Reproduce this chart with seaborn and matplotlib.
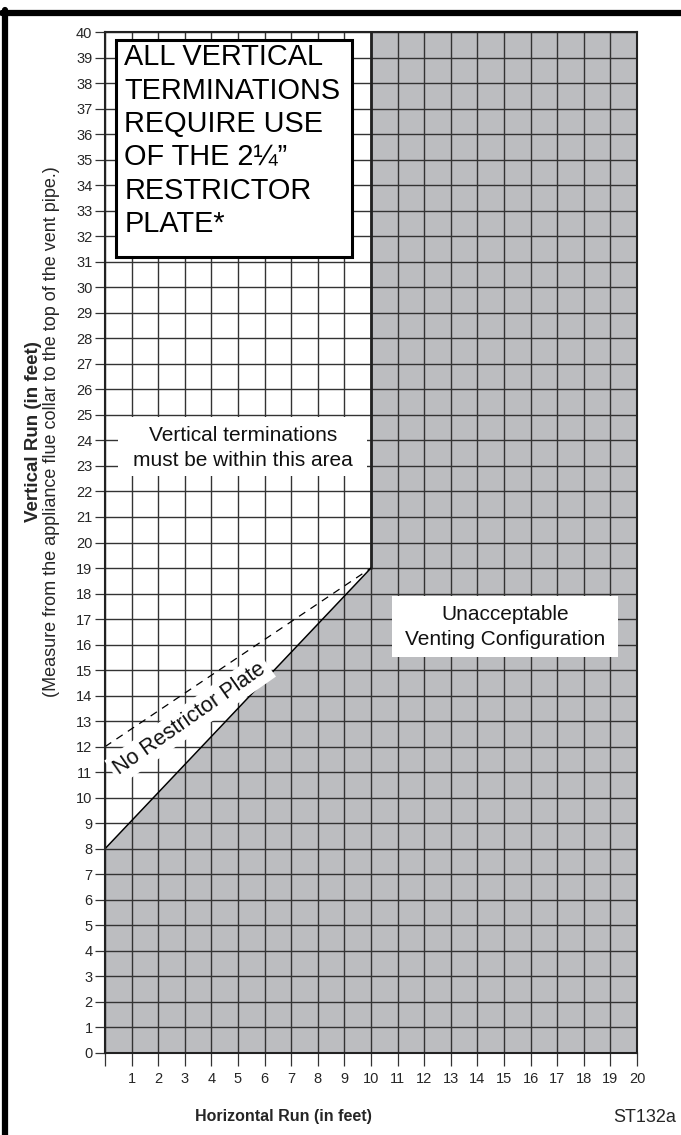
import matplotlib
matplotlib.use("Agg")
import matplotlib.pyplot as plt
import matplotlib.patches as mpatches
from matplotlib.lines import Line2D
import seaborn as sns
import pandas as pd

# Venting limit boundary (horizontal run vs vertical run, feet)
solid_x = [0, 10, 10]
solid_y = [8, 19, 40]
# Limit without restrictor plate
dashed_x = [0, 10]
dashed_y = [12, 19]

x_ticks = list(range(0, 21))
y_ticks = list(range(0, 41))
x_ticklabels = [""] + [str(v) for v in x_ticks[1:]]
y_ticklabels = [str(v) for v in y_ticks]

GRAY = "#bcbdc0"
GRID = "#333333"

sns.set_theme(style="white")
plt.rcParams["font.family"] = ["Liberation Sans", "DejaVu Sans"]

fig = plt.figure(figsize=(6.81, 11.35), dpi=100)
ax = fig.add_axes([105 / 681, 1 - 1053 / 1135, (637 - 105) / 681, (1053 - 32) / 1135])

# unacceptable region
ax.fill_between(solid_x + [20], 0, solid_y + [40], color=GRAY, lw=0, zorder=1)

df_solid = pd.DataFrame({"x": solid_x, "y": solid_y})
df_dash = pd.DataFrame({"x": dashed_x, "y": dashed_y})
sns.lineplot(data=df_solid.iloc[:2], x="x", y="y", estimator=None, sort=False,
             color="black", lw=1.1, ax=ax, zorder=3)
sns.lineplot(data=df_solid.iloc[1:], x="x", y="y", estimator=None, sort=False,
             color="#222222", lw=2.0, ax=ax, zorder=3)
sns.lineplot(data=df_dash, x="x", y="y", estimator=None, sort=False,
             color="black", lw=0.9, ax=ax, zorder=3)
ax.lines[-1].set_dashes([6, 5])

ax.set_xlim(0, 20)
ax.set_ylim(0, 40)
ax.set_xticks(x_ticks)
ax.set_xticklabels(x_ticklabels)
ax.set_yticks(y_ticks)
ax.set_yticklabels(y_ticklabels)
ax.set_xlabel("")
ax.set_ylabel("")
ax.set_axisbelow(False)
ax.grid(True, color=GRID, lw=1.0, zorder=2)
ax.tick_params(axis="x", direction="out", length=9.5, width=0.9, color=GRID,
               labelsize=10.5, pad=4, bottom=True)
ax.tick_params(axis="y", direction="out", length=7, width=0.9, color=GRID,
               labelsize=10.5, pad=2, left=True)
for s in ax.spines.values():
    s.set_color("#222222")
    s.set_linewidth(1.5)
    s.set_zorder(4)

# text boxes
ax.add_patch(mpatches.Rectangle((0.41, 31.2), 8.88, 8.5, facecolor="white",
                                edgecolor="black", lw=2.2, zorder=5))
ax.text(0.72, 39.55, "ALL VERTICAL\nTERMINATIONS\nREQUIRE USE\nOF THE 2\u00bc\u201d\nRESTRICTOR\nPLATE*",
        ha="left", va="top", fontsize=20.8, linespacing=1.24, color="black", zorder=6)

ax.add_patch(mpatches.Rectangle((0.5, 22.6), 9.35, 2.3, facecolor="white",
                                edgecolor="none", zorder=5))
ax.text(5.2, 23.72, "Vertical terminations\nmust be within this area",
        ha="center", va="center", fontsize=15, linespacing=1.4, color="#111111", zorder=6)

ax.add_patch(mpatches.Rectangle((10.8, 15.5), 8.5, 2.4, facecolor="white",
                                edgecolor="none", zorder=5))
ax.text(15.05, 16.7, "Unacceptable\nVenting Configuration",
        ha="center", va="center", fontsize=15, linespacing=1.4, color="#111111", zorder=6)

ax.text(3.2, 13.1, "No Restrictor Plate", ha="center", va="center", rotation=35,
        rotation_mode="anchor", fontsize=15.5, color="#111111", zorder=6,
        bbox=dict(boxstyle="square,pad=0.2", facecolor="white", edgecolor="none"))

# axis titles
fig.text(34 / 681, 1 - 432 / 1135, "Vertical Run (in feet)", rotation=90,
         ha="center", va="center", fontsize=13.5, fontweight="bold")
fig.text(52 / 681, 1 - 432 / 1135,
         "(Measure from the appliance flue collar to the top of the vent pipe.)",
         rotation=90, ha="center", va="center", fontsize=13)
fig.text(283 / 681, 1 - 1116 / 1135, "Horizontal Run (in feet)",
         ha="center", va="center", fontsize=11.5, fontweight="bold")
fig.text(645 / 681, 1 - 1118 / 1135, "ST132a", ha="center", va="center", fontsize=13)

# page frame (top and left edges)
fig.add_artist(Line2D([2 / 681, 1], [1 - 12.5 / 1135] * 2, color="black", lw=4.5))
fig.add_artist(Line2D([4.5 / 681] * 2, [0, 1 - 10 / 1135], color="black", lw=4.5))

fig.savefig("out.png", dpi=100)
